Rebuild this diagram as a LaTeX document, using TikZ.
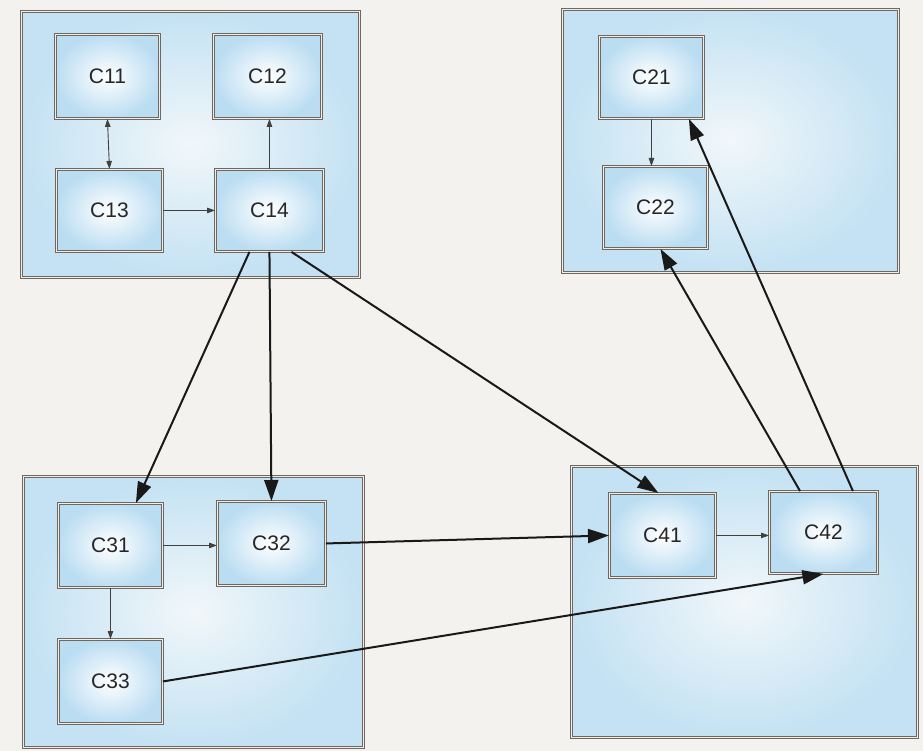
\documentclass[tikz,border=0pt]{standalone}
\usepackage{fontspec}
\setmainfont{Liberation Sans}
\usetikzlibrary{arrows.meta}
\definecolor{paper}{HTML}{F3F2EF}
\definecolor{edgegray}{HTML}{6E6862}
\definecolor{bigin}{HTML}{F1F7FA}
\definecolor{bigout}{HTML}{C4E2F3}
\definecolor{smin}{HTML}{FFFFFF}
\definecolor{smout}{HTML}{BBDDF2}
\begin{document}
\begin{tikzpicture}[x=1pt,y=-1pt,
  bigbox/.style={draw=edgegray, line width=1pt, double=white!85!brown, double distance=1.4pt,
    inner color=bigin, outer color=bigout, anchor=north west, inner sep=0pt},
  smallbox/.style={draw=edgegray, line width=0.9pt, double=white!85!brown, double distance=1.3pt,
    inner color=smin, outer color=smout, anchor=north west, inner sep=0pt,
    font=\fontsize{21}{24}\selectfont, text=black!85},
  bigarrow/.style={line width=2pt, draw=black!90, -{Triangle[length=21pt,width=14pt]}},
  smallarrow/.style={line width=0.9pt, draw=black!75, -{Triangle[length=8pt,width=5.5pt]}},
  smallboth/.style={line width=0.9pt, draw=black!75, {Triangle[length=8pt,width=5.5pt]}-{Triangle[length=8pt,width=5.5pt]}}
]
\fill[paper] (0,0) rectangle (923,751);
\useasboundingbox (0,0) rectangle (923,751);

% group boxes
\node[bigbox, minimum width=338pt, minimum height=266pt] (g1) at (21,11) {};
\node[bigbox, minimum width=336pt, minimum height=263pt] (g2) at (562,9) {};
\node[bigbox, minimum width=340pt, minimum height=271pt] (g3) at (23,476) {};
\node[bigbox, minimum width=346pt, minimum height=271pt] (g4) at (571,466) {};

% components
\node[smallbox, minimum width=104pt, minimum height=84pt] (c11) at (55,34) {C11};
\node[smallbox, minimum width=108pt, minimum height=84pt] (c12) at (213,34) {C12};
\node[smallbox, minimum width=106pt, minimum height=82pt] (c13) at (56,169) {C13};
\node[smallbox, minimum width=108pt, minimum height=82pt] (c14) at (215,169) {C14};

\node[smallbox, minimum width=104pt, minimum height=82pt] (c21) at (599,36) {C21};
\node[smallbox, minimum width=104pt, minimum height=82pt] (c22) at (603,166) {C22};

\node[smallbox, minimum width=104pt, minimum height=84pt] (c31) at (58,503) {C31};
\node[smallbox, minimum width=108pt, minimum height=84pt] (c32) at (217,501) {C32};
\node[smallbox, minimum width=104pt, minimum height=84pt] (c33) at (58,639) {C33};

\node[smallbox, minimum width=106pt, minimum height=84pt] (c41) at (609,493) {C41};
\node[smallbox, minimum width=108pt, minimum height=82pt] (c42) at (769,491) {C42};

% local connectors
\draw[smallboth] (c11.south) -- (c13.north);
\draw[smallarrow] (c14.north) -- (c12.south -| c14.north);
\draw[smallarrow] (c13.east) -- (c14.west);
\draw[smallarrow] (c21.south) -- (c22.north -| c21.south);
\draw[smallarrow] (c31.east) -- (c32.west |- c31.east);
\draw[smallarrow] (c31.south) -- (c33.north);
\draw[smallarrow] (c41.east) -- (c42.west |- c41.east);

% inter-group connectors
\draw[bigarrow] ([xshift=-20pt]c14.south) -- ([xshift=-27pt]c31.north east);
\draw[bigarrow] (c14.south) -- (c32.north);
\draw[bigarrow] ([xshift=22pt]c14.south) -- ([xshift=-4pt]c41.north);
\draw[bigarrow] (c32.east) -- (c41.west);
\draw[bigarrow] (c33.east) -- (c42.south);
\draw[bigarrow] ([xshift=31pt]c42.north west) -- ([xshift=5pt]c22.south);
\draw[bigarrow] ([xshift=-25pt]c42.north east) -- ([xshift=-15pt]c21.south east);
\end{tikzpicture}
\end{document}
